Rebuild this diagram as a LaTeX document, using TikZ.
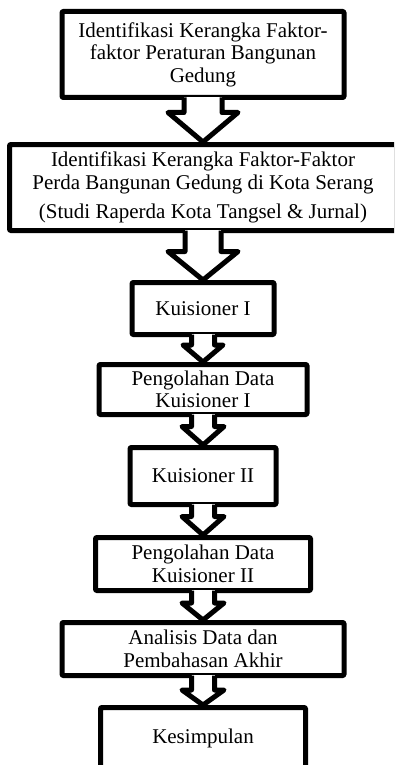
\documentclass[tikz,border=0pt]{standalone}
\usepackage{fontspec}
\setmainfont{Liberation Serif}
\usetikzlibrary{calc}
\tikzset{
  box/.style={draw=black, line width=5pt, line join=round, rounded corners=1pt, fill=white,
    align=center, inner sep=0pt, font=\fontsize{21}{22.5}\selectfont},
  arr/.style={draw=black, fill=white, line width=5pt, line join=round}
}
% #1 from, #2 to, #3 shaft half width, #4 head half width, #5 shaft length
\newcommand{\blockarrow}[5]{%
  \fill[white] ($(#1.south)+(-#3,-2.6)$) rectangle ($(#1.south)+(#3,#5)$);
  \draw[arr] ($(#1.south)+(-#3,-2.5)$) |- ($(#1.south)+(-#4,#5)$) -- (#2.north)
    -- ($(#1.south)+(#4,#5)$) -| ($(#1.south)+(#3,-2.5)$);}
\begin{document}
\begin{tikzpicture}[x=1pt,y=-1pt]
\useasboundingbox (0,0) rectangle (394,765);
\begin{scope}
\clip (0,0) rectangle (394,765);
\node[box, minimum width=282pt, minimum height=86pt] (b1) at (203,54.5)
  {Identifikasi Kerangka Faktor-\\faktor Peraturan Bangunan\\Gedung};
\node[box, minimum width=387pt, minimum height=86pt] (b2) at (203,187.5)
  {Identifikasi Kerangka Faktor-Faktor\\Perda Bangunan Gedung di Kota Serang\\[7pt](Studi Raperda Kota Tangsel \& Jurnal)};
\node[box, minimum width=142pt, minimum height=52pt] (b3) at (203,308.5) {Kuisioner I};
\node[box, minimum width=208pt, minimum height=50pt] (b4) at (203,389.5) {Pengolahan Data\\Kuisioner I};
\node[box, minimum width=146pt, minimum height=57pt] (b5) at (203,476) {Kuisioner II};
\node[box, minimum width=215pt, minimum height=53pt] (b6) at (203,564) {Pengolahan Data\\Kuisioner II};
\node[box, minimum width=282pt, minimum height=53pt] (b7) at (203,649) {Analisis Data dan\\Pembahasan Akhir};
\node[box, minimum width=205pt, minimum height=62.5pt] (b8) at (203,738.75) {Kesimpulan};
\blockarrow{b1}{b2}{19}{35}{12.5}
\blockarrow{b2}{b3}{18}{35}{18.5}
\blockarrow{b3}{b4}{11.5}{20}{8}
\blockarrow{b4}{b5}{11.5}{21}{9.5}
\blockarrow{b5}{b6}{11.5}{21}{9.5}
\blockarrow{b6}{b7}{11.5}{21}{10}
\blockarrow{b7}{b8}{11.5}{21}{12}
\end{scope}
\end{tikzpicture}
\end{document}
